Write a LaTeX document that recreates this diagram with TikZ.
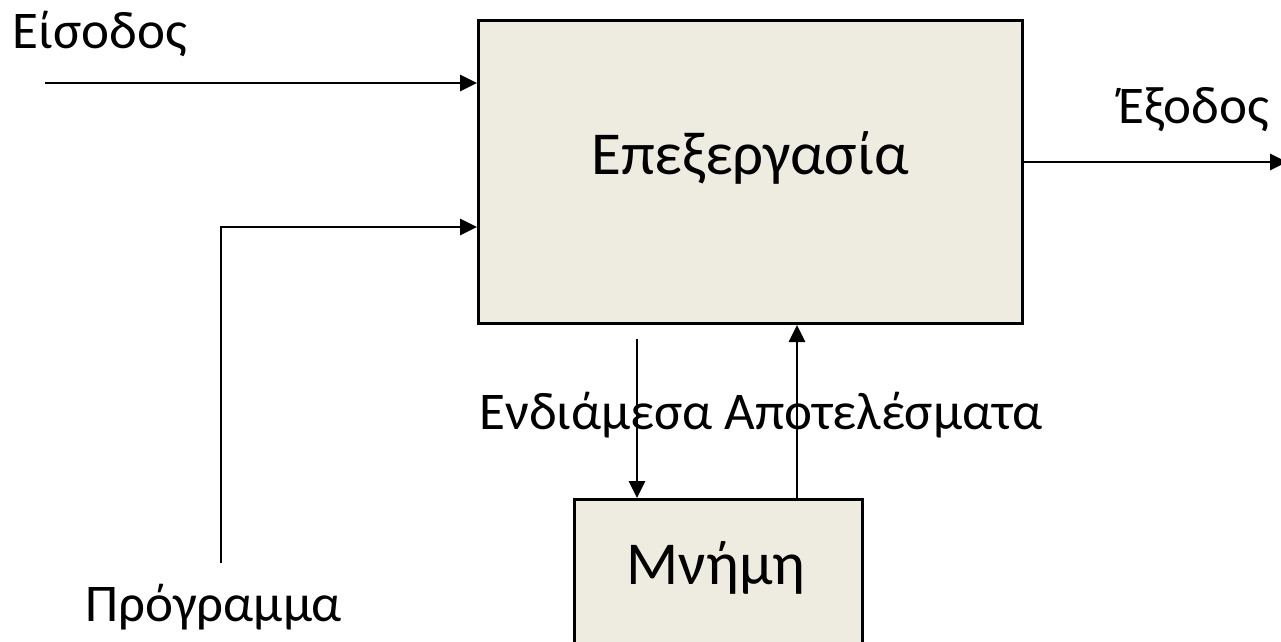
\documentclass[tikz,border=0pt]{standalone}
\usepackage{fontspec}
\setmainfont{Carlito}
\usetikzlibrary{arrows.meta}
\definecolor{boxfill}{HTML}{EEECE1}
\tikzset{
  blockbox/.style={draw=black, line width=3pt, fill=boxfill, inner sep=0pt},
  flow/.style={line width=2.8pt, -{Triangle[length=17pt,width=16pt]}},
  biglabel/.style={font=\fontsize{53}{58}\selectfont, inner sep=0pt, anchor=base},
  boxlabel/.style={font=\fontsize{61}{66}\selectfont, inner sep=0pt, anchor=base}
}
\begin{document}
\begin{tikzpicture}[x=1pt,y=-1pt]
\useasboundingbox (0,0) rectangle (1281,641);

% processing unit and memory
\node[blockbox, anchor=north west, minimum width=544pt, minimum height=303pt] (proc) at (477,19) {};
\node[boxlabel] (proctext) at (750,174) {Επεξεργασία};
\node[blockbox, anchor=north west, minimum width=288pt, minimum height=170pt] (mem) at (573,498) {};
\node[boxlabel] (memtext) at (716,584) {Μνήμη};

% labels
\node[biglabel] (inlabel) at (100,48) {Είσοδος};
\node[biglabel] (outlabel) at (1194,123) {Έξοδος};
\node[biglabel] (proglabel) at (214,621) {Πρόγραμμα};
\node[biglabel] (midlabel) at (761,429) {Ενδιάμεσα Αποτελέσματα};

% free ends of connectors
\coordinate (inStart) at (45,83);
\coordinate (progStart) at (221,563);
\coordinate (progCorner) at (221,227);
\coordinate (outEnd) at (1287,162);
\coordinate (downStart) at (637,339);
\coordinate (upX) at (797,0);

% input and program lines
\draw[flow] (inStart) -- (inStart -| proc.west);
\draw[flow] (progStart) -- (progCorner) -- (progCorner -| proc.west);

% output
\draw[flow] (outEnd -| proc.east) -- (outEnd);

% memory traffic
\draw[flow] (downStart) -- (downStart |- mem.north);
\draw[flow] (upX |- mem.north) -- (upX |- proc.south);
\end{tikzpicture}
\end{document}
